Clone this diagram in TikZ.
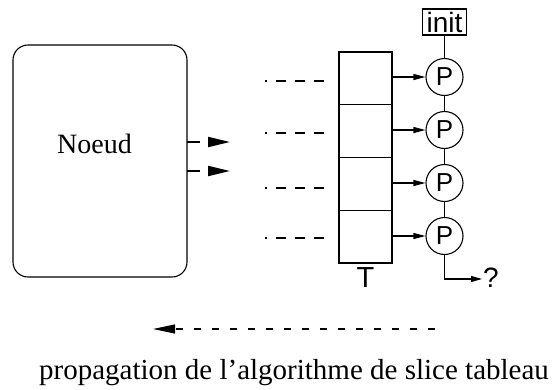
\documentclass[tikz,border=0pt]{standalone}
\usepackage{fontspec}
\setmainfont{Liberation Serif}
\newfontfamily\labelsans{Liberation Sans}
\usetikzlibrary{arrows.meta}
\tikzset{
  line/.style={line width=1.1pt},
  cell/.style={draw, line width=1.1pt, minimum width=53pt, minimum height=52.75pt, inner sep=0pt, outer sep=0pt},
  proc/.style={draw, circle, line width=1.1pt, minimum size=37pt, inner sep=0pt, font=\labelsans\fontsize{26}{26}\selectfont},
  smalltip/.style={-{Triangle[length=12pt,width=6pt]}},
  bigtip/.style={-{Triangle[length=22pt,width=10pt]}},
  feed/.style={line width=1.1pt, dash pattern=on 10pt off 9pt},
}
\begin{document}
\begin{tikzpicture}[x=1pt,y=-1pt]
\useasboundingbox (0,0) rectangle (555,389);

% node box
\node (noeud) [draw, line width=1.1pt, rounded corners=15pt, minimum width=174pt, minimum height=232pt, inner sep=0pt, outer sep=0pt] at (100,161) {};
\node (noeudtxt) [anchor=base, inner sep=0pt, font=\fontsize{28}{28}\selectfont] at (94.5,153) {Noeud};

% outgoing arrows of the node
\coordinate (o1) at (230,142);
\coordinate (o2) at (230,171);
\draw[bigtip, line width=2pt, dash pattern=on 13pt off 9pt] (noeud.east |- o1) -- (o1);
\draw[bigtip, line width=2pt, dash pattern=on 13pt off 9pt] (noeud.east |- o2) -- (o2);

% table T
\node (c1) [cell] at (365.5,78.4) {};
\node (c2) [cell, anchor=north] at (c1.south) {};
\node (c3) [cell, anchor=north] at (c2.south) {};
\node (c4) [cell, anchor=north] at (c3.south) {};
\node (tlbl) [anchor=base, inner sep=0pt, font=\labelsans\fontsize{29}{29}\selectfont] at ([yshift=-24pt]c4.south) {T};

% dashed feeds into the table
\coordinate (f1) at (265,81);
\coordinate (f2) at (265,133);
\coordinate (f3) at (265,188);
\coordinate (f4) at (265,238);
\draw[feed] (324,81) -- (f1);
\draw[feed] (324,133) -- (f2);
\draw[feed] (324,188) -- (f3);
\draw[feed] (324,238) -- (f4);

% processes
\node (init) [draw, line width=1.1pt, minimum width=44pt, minimum height=26pt, inner sep=0pt, font=\labelsans\fontsize{28}{28}\selectfont] at (444.5,22) {init};
\node (p1) [proc] at (444.5,77) {P};
\node (p2) [proc] at (444.5,130) {P};
\node (p3) [proc] at (444.5,183) {P};
\node (p4) [proc] at (444.5,236) {P};

\draw[line] (init) -- (p1);
\draw[line] (p1) -- (p2);
\draw[line] (p2) -- (p3);
\draw[line] (p3) -- (p4);

\foreach \i in {1,...,4}
  \draw[line, smalltip] (p\i.west -| c\i.east) -- (p\i.west);

% exit of the last process
\coordinate (q) at (482,279);
\draw[line, -{Triangle[length=11pt,width=6pt]}] (p4.south) |- (q);
\node (qm) [anchor=base west, inner sep=0pt, font=\labelsans\fontsize{28}{28}\selectfont] at (483,287) {?};

% propagation direction
\coordinate (pl) at (153,329);
\draw[line, -{Triangle[length=22pt,width=9pt]}, dash pattern=on 7pt off 11pt] (435,329) -- (pl);
\node (cap) [anchor=base, inner sep=0pt, font=\fontsize{29}{29}\selectfont] at (294,379) {propagation de l’algorithme de slice tableau};
\end{tikzpicture}
\end{document}
